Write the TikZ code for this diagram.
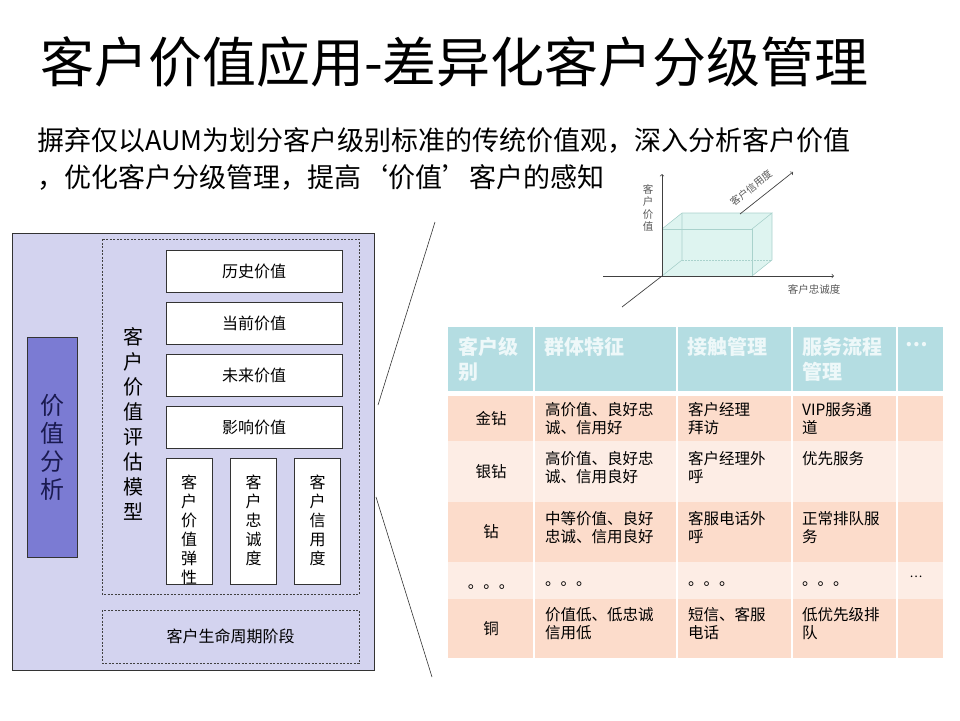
\documentclass[tikz,border=0pt]{standalone}
\usepackage{fontspec}
\setmainfont{Noto Sans CJK SC}
\usetikzlibrary{calc,positioning}
\definecolor{panelbg}{HTML}{D3D3EF}
\definecolor{anabox}{HTML}{7B7BD3}
\definecolor{anatext}{HTML}{1A1A50}
\definecolor{hdrteal}{HTML}{B4DDE2}
\definecolor{rowdark}{HTML}{FCDCCB}
\definecolor{rowlight}{HTML}{FDEDE5}
\definecolor{cubefill}{HTML}{D6F1EC}
\definecolor{cubeedge}{HTML}{A9D2CC}
\def\fsz#1#2{\fontsize{#1}{#2}\selectfont}

\begin{document}
\begin{tikzpicture}[x=1pt, y=-1pt,
	valbox/.style={draw=black!80, fill=white, minimum width=176pt, minimum height=42pt, inner sep=0pt, font=\fsz{16}{19}},
	smallbox/.style={draw=black!80, fill=white, minimum width=46pt, minimum height=126pt, inner sep=0pt},
	vtxt/.style={inner sep=0pt, align=center, font=\fsz{16}{19}},
	dashbox/.style={draw=black!75, dash pattern=on 2pt off 1.5pt},
	hdr/.style={anchor=north west, inner sep=0pt, align=left, text=white!78!hdrteal, font=\bfseries\fsz{20}{25}},
	cell/.style={anchor=north west, inner sep=0pt, align=left, font=\fsz{15.5}{18.5}},
	cellc/.style={inner sep=0pt, font=\fsz{15.5}{18.5}},
	axis/.style={draw=black!75, line width=0.7pt},
	ctxt/.style={inner sep=0pt, text=black!65, font=\fsz{10.5}{12.5}}]
		\useasboundingbox (0,0) rectangle (960,720);
		%%%%% START %%%%%
		
		\node[anchor=west, inner sep=0pt, font=\fsz{54}{60}] (title) at (40, 62) {客户价值应用-差异化客户分级管理};
		\node[anchor=north west, inner sep=0pt, align=left, font=\fsz{27}{37}] (lead) at (37, 127)
			{摒弃仅以AUM为划分客户级别标准的传统价值观，深入分析客户价值\\，优化客户分级管理，提高‘价值’客户的感知};
		
		% left panel
		\draw[draw=black!80, fill=panelbg] (12, 233) rectangle (374, 670);
		\node[draw=black!80, fill=anabox, minimum width=50pt, minimum height=220pt, inner sep=0pt] (analysis) at (52, 447) {};
		\node[vtxt, text=anatext, font=\fsz{24}{28}] (analysislbl) at (analysis) {价\\值\\分\\析};
		
		\draw[dashbox] (102, 239) rectangle (359, 594);
		\node[vtxt, font=\fsz{20}{25}] (model) at (133, 424) {客\\户\\价\\值\\评\\估\\模\\型};
		
		\node[valbox] (hist) at (254, 271) {历史价值};
		\node[valbox] (curr) at (254, 323) {当前价值};
		\node[valbox] (futu) at (254, 375) {未来价值};
		\node[valbox] (infl) at (254, 427) {影响价值};
		
		\node[smallbox] (elast) at (189, 521) {};
		\node[smallbox] (loyal) at (253.5, 521) {};
		\node[smallbox] (credit) at (317.5, 521) {};
		\node[vtxt, below=17pt of elast.north] (elasttxt) {客\\户\\价\\值\\弹\\性};
		\node[vtxt, below=17pt of loyal.north] (loyaltxt) {客\\户\\忠\\诚\\度};
		\node[vtxt, below=17pt of credit.north] (credittxt) {客\\户\\信\\用\\度};
		
		\draw[dashbox] (102, 610) rectangle (359, 663);
		\node[inner sep=0pt, font=\fsz{16}{19}] (life) at (230.5, 636) {客户生命周期阶段};
		
		% zoom lines
		\coordinate (zA) at (435, 222);
		\coordinate (zB) at (378, 405);
		\coordinate (zC) at (376, 497);
		\coordinate (zD) at (432, 677);
		\draw[black!80, line width=0.6pt] (zA) -- (zB);
		\draw[black!80, line width=0.6pt] (zC) -- (zD);
		
		% 3d chart
		\coordinate (O) at (662, 276);
		\coordinate (yTip) at (662, 174);
		\coordinate (xTail) at (603, 276);
		\coordinate (xTip) at (834, 276);
		\coordinate (zTail) at (622, 307);
		\coordinate (F1) at (662, 229);
		\coordinate (F2) at (752, 229);
		\coordinate (F3) at (752, 276);
		\coordinate (B1) at (682, 213);
		\coordinate (B2) at (772, 213);
		\coordinate (B3) at (772, 260);
		\coordinate (B4) at (682, 260);
		\fill[cubefill, opacity=0.8] (O) -- (F1) -- (B1) -- (B2) -- (B3) -- (F3) -- cycle;
		\draw[cubeedge, line width=0.6pt] (O) -- (F1) -- (F2) -- (F3);
		\draw[cubeedge, line width=0.6pt] (F1) -- (B1) -- (B2) -- (F2) (B2) -- (B3) -- (F3);
		\draw[cubeedge, line width=0.6pt] (B1) -- (B4) -- (O);
		\draw[cubeedge, line width=0.6pt, dash pattern=on 1.5pt off 1.5pt] (B4) -- (B3);
		\draw[axis, ->] (O) -- (yTip);
		\draw[axis, ->] (xTail) -- (xTip);
		\draw[axis] (zTail) -- (O);
		\coordinate (cA) at (740, 214);
		\coordinate (cB) at (793, 172);
		\draw[axis, ->] (cA) -- (cB);
		\node[ctxt, align=center] (valaxis) at (648, 208) {客\\户\\价\\值};
		\node[ctxt] (loyaxis) at (814, 289) {客户忠诚度};
		\node[ctxt, rotate=39, font=\fsz{10}{12}] (credaxis) at (751, 188) {客户信用度};
		
		% table
		\foreach \ya/\yb/\cl in {327/391/hdrteal, 396/441/rowdark, 441/502/rowlight, 502/562/rowdark, 562/599/rowlight, 599/658/rowdark}
			\fill[\cl] (448, \ya) rectangle (943, \yb);
		\foreach \xc in {534, 677, 792, 897}
			\draw[white, line width=2pt] (\xc, 327) -- (\xc, 658);
		
		\node[hdr] (h1) at (458, 337) {客户级\\别};
		\node[hdr] (h2) at (544, 337) {群体特征};
		\node[hdr] (h3) at (687, 337) {接触管理};
		\node[hdr] (h4) at (802, 337) {服务流程\\管理};
		\node[inner sep=0pt, text=white!78!hdrteal, font=\bfseries\fsz{20}{25}] (h5) at (917, 345) {…};
		
		\node[cellc] (r1c1) at (491, 418.5) {金钻};
		\node[cell] (r1c2) at (545, 402) {高价值、良好忠\\诚、信用好};
		\node[cell] (r1c3) at (688, 402) {客户经理\\拜访};
		\node[cell] (r1c4) at (802, 402) {VIP服务通\\道};
		
		\node[cellc] (r2c1) at (491, 472) {银钻};
		\node[cell] (r2c2) at (545, 451) {高价值、良好忠\\诚、信用良好};
		\node[cell] (r2c3) at (688, 451) {客户经理外\\呼};
		\node[cell] (r2c4) at (802, 451) {优先服务};
		
		\node[cellc] (r3c1) at (491, 532) {钻};
		\node[cell] (r3c2) at (545, 511) {中等价值、良好\\忠诚、信用良好};
		\node[cell] (r3c3) at (688, 511) {客服电话外\\呼};
		\node[cell] (r3c4) at (802, 511) {正常排队服\\务};
		
		\node[cellc, anchor=base] (r4c1) at (491, 588) {。。。};
		\node[cell, anchor=base west] (r4c2) at (545, 585) {。。。};
		\node[cell, anchor=base west] (r4c3) at (688, 585) {。。。};
		\node[cell, anchor=base west] (r4c4) at (802, 585) {。。。};
		\node[cellc, font=\fsz{12}{14}] (r4c5) at (916, 577) {…};
		
		\node[cellc] (r5c1) at (491, 629) {铜};
		\node[cell] (r5c2) at (545, 607) {价值低、低忠诚\\信用低};
		\node[cell] (r5c3) at (688, 607) {短信、客服\\电话};
		\node[cell] (r5c4) at (802, 607) {低优先级排\\队};
		
		%%%%% END %%%%%
	\end{tikzpicture}
\end{document}
